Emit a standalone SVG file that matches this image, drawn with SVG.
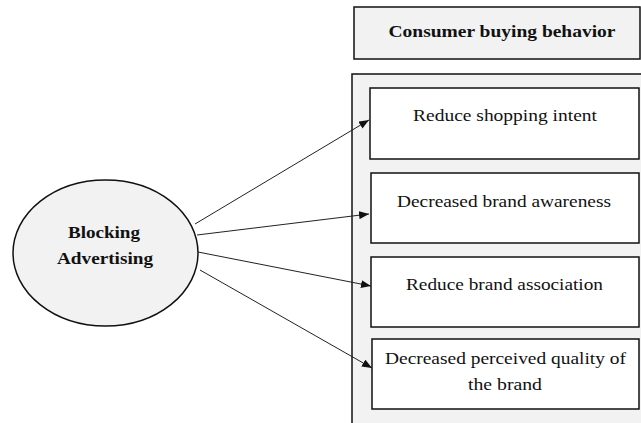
<svg xmlns="http://www.w3.org/2000/svg" width="641" height="423" viewBox="0 0 641 423">
<style>
.panel{fill:#f2f2f2;stroke:#111;stroke-width:1.5}
.box{fill:#fff;stroke:#111;stroke-width:1.5}
.t{font-family:"Liberation Serif",serif;font-size:17px;fill:#111;text-anchor:middle}
.b{font-weight:bold}
.c{stroke:#222;stroke-width:1;fill:none;marker-end:url(#ah)}
</style>
<defs>
<marker id="ah" markerWidth="10" markerHeight="8" refX="10" refY="4" orient="auto" markerUnits="userSpaceOnUse">
<path d="M0,0 L10,4 L0,8 Z" fill="#111"/>
</marker>
</defs>
<rect width="641" height="423" fill="#fff"/>
<g id="header">
<rect class="panel" x="354" y="7" width="286" height="52"/>
<text class="t b" x="502" y="37" textLength="227" lengthAdjust="spacingAndGlyphs">Consumer buying behavior</text>
</g>
<g id="container">
<rect class="panel" x="352" y="74" width="290" height="352"/>
</g>
<g id="n1">
<rect class="box" x="370" y="88" width="269" height="71"/>
<text class="t" x="505" y="121" textLength="184" lengthAdjust="spacingAndGlyphs">Reduce shopping intent</text>
</g>
<g id="n2">
<rect class="box" x="371" y="173" width="268" height="70"/>
<text class="t" x="504" y="207" textLength="214" lengthAdjust="spacingAndGlyphs">Decreased brand awareness</text>
</g>
<g id="n3">
<rect class="box" x="371" y="257" width="268" height="70"/>
<text class="t" x="504.5" y="290" textLength="197" lengthAdjust="spacingAndGlyphs">Reduce brand association</text>
</g>
<g id="n4">
<rect class="box" x="372" y="339" width="267" height="70"/>
<text class="t" x="505.5" y="364" textLength="241" lengthAdjust="spacingAndGlyphs">Decreased perceived quality of</text>
<text class="t" x="505" y="390" textLength="74" lengthAdjust="spacingAndGlyphs">the brand</text>
</g>
<g id="source">
<ellipse cx="105.5" cy="253" rx="92.5" ry="73" fill="#f2f2f2" stroke="#111" stroke-width="1.5"/>
<text class="t b" x="104" y="238" textLength="72" lengthAdjust="spacingAndGlyphs">Blocking</text>
<text class="t b" x="105" y="264" textLength="96" lengthAdjust="spacingAndGlyphs">Advertising</text>
</g>
<g id="connectors">
<line class="c" x1="195" y1="224" x2="369" y2="120"/>
<line class="c" x1="197" y1="235" x2="369" y2="214"/>
<line class="c" x1="198" y1="252" x2="371" y2="286"/>
<line class="c" x1="200" y1="270" x2="372" y2="368"/>
</g>
</svg>
